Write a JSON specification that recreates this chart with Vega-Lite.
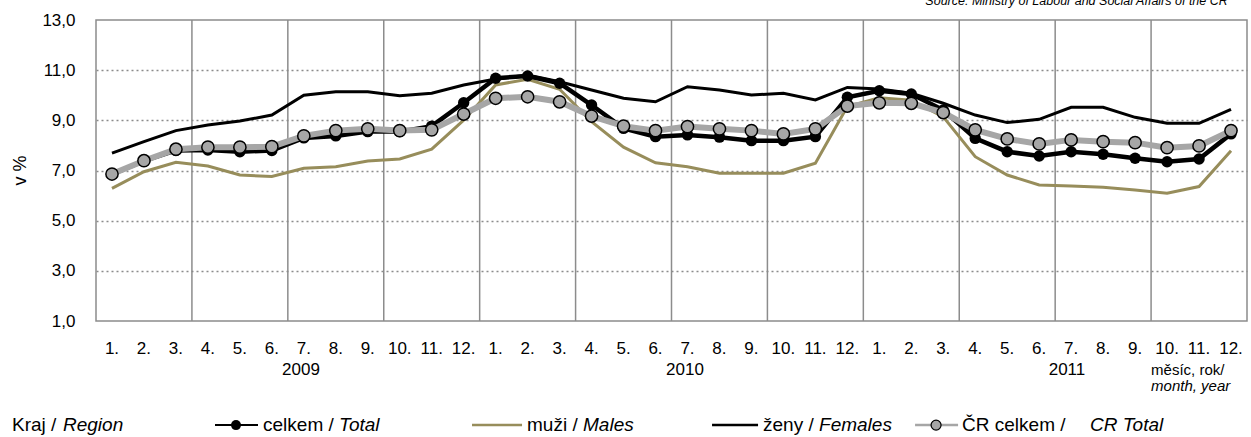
{
  "$schema": "https://vega.github.io/schema/vega-lite/v6.json",
  "width": 1151,
  "height": 301,
  "autosize": {"type": "none"},
  "padding": {"left": 96, "top": 20, "right": 4, "bottom": 116},
  "background": "white",
  "config": {
    "font": "Liberation Sans",
    "view": {"stroke": "#8c8c8c", "strokeWidth": 1.5},
    "axis": {"labelFont": "Liberation Sans", "titleFont": "Liberation Sans", "labelColor": "black", "titleColor": "black"},
    "text": {"font": "Liberation Sans", "color": "black"},
    "rule": {"color": "#8c8c8c", "strokeWidth": 1.5}
  },
  "layer": [
    {"data": {"values": [{}]}, "mark": "rule", "encoding": {"x": {"datum": 3.5}}},
    {"data": {"values": [{}]}, "mark": "rule", "encoding": {"x": {"datum": 6.5}}},
    {"data": {"values": [{}]}, "mark": "rule", "encoding": {"x": {"datum": 9.5}}},
    {"data": {"values": [{}]}, "mark": "rule", "encoding": {"x": {"datum": 12.5}}},
    {"data": {"values": [{}]}, "mark": "rule", "encoding": {"x": {"datum": 15.5}}},
    {"data": {"values": [{}]}, "mark": "rule", "encoding": {"x": {"datum": 18.5}}},
    {"data": {"values": [{}]}, "mark": "rule", "encoding": {"x": {"datum": 21.5}}},
    {"data": {"values": [{}]}, "mark": "rule", "encoding": {"x": {"datum": 24.5}}},
    {"data": {"values": [{}]}, "mark": "rule", "encoding": {"x": {"datum": 27.5}}},
    {"data": {"values": [{}]}, "mark": "rule", "encoding": {"x": {"datum": 30.5}}},
    {"data": {"values": [{}]}, "mark": "rule", "encoding": {"x": {"datum": 33.5}}},
    {
      "data": {"values": [
        {"t": 1, "m": "1.", "total": 6.85, "males": 6.29, "females": 7.69, "cr": 6.86},
        {"t": 2, "m": "2.", "total": 7.38, "males": 6.95, "females": 8.15, "cr": 7.39},
        {"t": 3, "m": "3.", "total": 7.80, "males": 7.33, "females": 8.59, "cr": 7.85},
        {"t": 4, "m": "4.", "total": 7.82, "males": 7.18, "females": 8.81, "cr": 7.93},
        {"t": 5, "m": "5.", "total": 7.75, "males": 6.82, "females": 8.97, "cr": 7.93},
        {"t": 6, "m": "6.", "total": 7.80, "males": 6.76, "females": 9.21, "cr": 7.95},
        {"t": 7, "m": "7.", "total": 8.30, "males": 7.09, "females": 10.00, "cr": 8.38},
        {"t": 8, "m": "8.", "total": 8.38, "males": 7.15, "females": 10.14, "cr": 8.59},
        {"t": 9, "m": "9.", "total": 8.55, "males": 7.38, "females": 10.14, "cr": 8.66},
        {"t": 10, "m": "10.", "total": 8.55, "males": 7.46, "females": 9.98, "cr": 8.59},
        {"t": 11, "m": "11.", "total": 8.77, "males": 7.85, "females": 10.08, "cr": 8.62},
        {"t": 12, "m": "12.", "total": 9.70, "males": 9.01, "females": 10.41, "cr": 9.25},
        {"t": 13, "m": "1.", "total": 10.68, "males": 10.41, "females": 10.65, "cr": 9.88},
        {"t": 14, "m": "2.", "total": 10.77, "males": 10.64, "females": 10.81, "cr": 9.94},
        {"t": 15, "m": "3.", "total": 10.48, "males": 10.24, "females": 10.54, "cr": 9.74},
        {"t": 16, "m": "4.", "total": 9.61, "males": 8.95, "females": 10.21, "cr": 9.17},
        {"t": 17, "m": "5.", "total": 8.68, "males": 7.93, "females": 9.88, "cr": 8.77},
        {"t": 18, "m": "6.", "total": 8.35, "males": 7.31, "females": 9.74, "cr": 8.59},
        {"t": 19, "m": "7.", "total": 8.42, "males": 7.15, "females": 10.34, "cr": 8.75},
        {"t": 20, "m": "8.", "total": 8.33, "males": 6.89, "females": 10.21, "cr": 8.66},
        {"t": 21, "m": "9.", "total": 8.19, "males": 6.89, "females": 10.01, "cr": 8.59},
        {"t": 22, "m": "10.", "total": 8.19, "males": 6.89, "females": 10.08, "cr": 8.46},
        {"t": 23, "m": "11.", "total": 8.35, "males": 7.29, "females": 9.81, "cr": 8.66},
        {"t": 24, "m": "12.", "total": 9.92, "males": 9.55, "females": 10.31, "cr": 9.57},
        {"t": 25, "m": "1.", "total": 10.18, "males": 9.90, "females": 10.25, "cr": 9.70},
        {"t": 26, "m": "2.", "total": 10.05, "males": 9.80, "females": 10.08, "cr": 9.68},
        {"t": 27, "m": "3.", "total": 9.41, "males": 9.14, "females": 9.68, "cr": 9.31},
        {"t": 28, "m": "4.", "total": 8.28, "males": 7.55, "females": 9.21, "cr": 8.62},
        {"t": 29, "m": "5.", "total": 7.75, "males": 6.82, "females": 8.91, "cr": 8.26},
        {"t": 30, "m": "6.", "total": 7.58, "males": 6.42, "females": 9.04, "cr": 8.06},
        {"t": 31, "m": "7.", "total": 7.75, "males": 6.38, "females": 9.52, "cr": 8.22},
        {"t": 32, "m": "8.", "total": 7.65, "males": 6.33, "females": 9.52, "cr": 8.15},
        {"t": 33, "m": "9.", "total": 7.49, "males": 6.22, "females": 9.12, "cr": 8.11},
        {"t": 34, "m": "10.", "total": 7.35, "males": 6.09, "females": 8.88, "cr": 7.91},
        {"t": 35, "m": "11.", "total": 7.46, "males": 6.36, "females": 8.88, "cr": 7.98},
        {"t": 36, "m": "12.", "total": 8.46, "males": 7.79, "females": 9.44, "cr": 8.59}
      ]},
      "transform": [{"fold": ["total", "males", "females", "cr"], "as": ["series", "value"]}],
      "encoding": {
        "x": {
          "field": "t", "type": "quantitative",
          "scale": {"domain": [0.5, 36.5], "nice": false, "zero": false},
          "axis": {"labels": false, "ticks": false, "domain": false, "title": null, "grid": false}
        },
        "y": {
          "field": "value", "type": "quantitative",
          "scale": {"domain": [1, 13], "nice": false, "zero": false},
          "axis": {
            "values": [1, 3, 5, 7, 9, 11, 13],
            "labelExpr": "replace(format(datum.value, '.1f'), '.', ',')",
            "labelFontSize": 17, "labelPadding": 21,
            "ticks": false, "domain": false,
            "title": "v %", "titleFontSize": 18, "titleFontWeight": "normal",
            "titleX": -76, "titleY": 150, "titleAngle": -90, "titleBaseline": "middle", "titleAlign": "center",
            "grid": true, "gridColor": "#8c8c8c", "gridWidth": 1.5, "gridDash": [2, 3],
            "gridOpacity": {"condition": {"test": "datum.value == 1 || datum.value == 13", "value": 0}, "value": 1}
          }
        }
      },
      "layer": [
        {"transform": [{"filter": "datum.series == 'females'"}], "mark": {"type": "line", "color": "black", "strokeWidth": 3}},
        {"transform": [{"filter": "datum.series == 'males'"}], "mark": {"type": "line", "color": "#978d5b", "strokeWidth": 3}},
        {"transform": [{"filter": "datum.series == 'total'"}], "mark": {"type": "line", "color": "black", "strokeWidth": 4.5}},
        {"transform": [{"filter": "datum.series == 'total'"}], "mark": {"type": "point", "shape": "circle", "filled": true, "color": "black", "size": 130, "opacity": 1}},
        {"transform": [{"filter": "datum.series == 'cr'"}], "mark": {"type": "line", "color": "#a6a6a6", "strokeWidth": 6}},
        {"transform": [{"filter": "datum.series == 'cr'"}], "mark": {"type": "point", "shape": "circle", "filled": true, "fill": "#a6a6a6", "stroke": "black", "strokeWidth": 1.5, "size": 150, "opacity": 1}},
        {"transform": [{"filter": "datum.series == 'total'"}], "mark": {"type": "text", "align": "center", "baseline": "middle", "fontSize": 17},
         "encoding": {"y": {"datum": -0.12}, "text": {"field": "m", "type": "nominal"}}}
      ]
    },
    {"data": {"values": [{}]}, "mark": {"type": "text", "align": "center", "baseline": "middle", "fontSize": 17},
     "encoding": {"x": {"datum": 6.91}, "y": {"datum": -0.95}, "text": {"value": "2009"}}},
    {"data": {"values": [{}]}, "mark": {"type": "text", "align": "center", "baseline": "middle", "fontSize": 17},
     "encoding": {"x": {"datum": 18.92}, "y": {"datum": -0.95}, "text": {"value": "2010"}}},
    {"data": {"values": [{}]}, "mark": {"type": "text", "align": "center", "baseline": "middle", "fontSize": 17},
     "encoding": {"x": {"datum": 30.87}, "y": {"datum": -0.95}, "text": {"value": "2011"}}},
    {"data": {"values": [{}]}, "mark": {"type": "text", "align": "right", "baseline": "alphabetic", "fontSize": 12.5, "fontStyle": "italic"},
     "encoding": {"x": {"datum": 35.9}, "y": {"datum": 13.6}, "text": {"value": "Source: Ministry of Labour and Social Affairs of the CR"}}},
    {"data": {"values": [{}]}, "mark": {"type": "text", "align": "left", "baseline": "middle", "fontSize": 15},
     "encoding": {"x": {"datum": 33.5}, "y": {"datum": -0.95}, "text": {"value": "měsíc, rok/"}}},
    {"data": {"values": [{}]}, "mark": {"type": "text", "align": "left", "baseline": "middle", "fontSize": 15, "fontStyle": "italic"},
     "encoding": {"x": {"datum": 33.5}, "y": {"datum": -1.59}, "text": {"value": "month, year"}}},
    {"data": {"values": [{}]}, "mark": {"type": "text", "align": "left", "baseline": "middle", "fontSize": 19},
     "encoding": {"x": {"datum": -2.127}, "y": {"datum": -3.15}, "text": {"value": "Kraj /"}}},
    {"data": {"values": [{}]}, "mark": {"type": "text", "align": "left", "baseline": "middle", "fontSize": 19, "fontStyle": "italic"},
     "encoding": {"x": {"datum": -0.532}, "y": {"datum": -3.15}, "text": {"value": "Region"}}},
    {"data": {"values": [{}]}, "mark": {"type": "rule", "color": "black", "strokeWidth": 2},
     "encoding": {"x": {"datum": 4.222}, "x2": {"datum": 5.567}, "y": {"datum": -3.15}}},
    {"data": {"values": [{}]}, "mark": {"type": "point", "shape": "circle", "filled": true, "color": "black", "size": 100, "opacity": 1},
     "encoding": {"x": {"datum": 4.879}, "y": {"datum": -3.15}}},
    {"data": {"values": [{}]}, "mark": {"type": "text", "align": "left", "baseline": "middle", "fontSize": 19},
     "encoding": {"x": {"datum": 5.724}, "y": {"datum": -3.15}, "text": {"value": "celkem /"}}},
    {"data": {"values": [{}]}, "mark": {"type": "text", "align": "left", "baseline": "middle", "fontSize": 19, "fontStyle": "italic"},
     "encoding": {"x": {"datum": 8.101}, "y": {"datum": -3.15}, "text": {"value": "Total"}}},
    {"data": {"values": [{}]}, "mark": {"type": "rule", "color": "#978d5b", "strokeWidth": 2.5},
     "encoding": {"x": {"datum": 12.261}, "x2": {"datum": 13.825}, "y": {"datum": -3.15}}},
    {"data": {"values": [{}]}, "mark": {"type": "text", "align": "left", "baseline": "middle", "fontSize": 19},
     "encoding": {"x": {"datum": 13.981}, "y": {"datum": -3.15}, "text": {"value": "muži /"}}},
    {"data": {"values": [{}]}, "mark": {"type": "text", "align": "left", "baseline": "middle", "fontSize": 19, "fontStyle": "italic"},
     "encoding": {"x": {"datum": 15.733}, "y": {"datum": -3.15}, "text": {"value": "Males"}}},
    {"data": {"values": [{}]}, "mark": {"type": "rule", "color": "black", "strokeWidth": 2.5},
     "encoding": {"x": {"datum": 19.768}, "x2": {"datum": 21.207}, "y": {"datum": -3.15}}},
    {"data": {"values": [{}]}, "mark": {"type": "text", "align": "left", "baseline": "middle", "fontSize": 19},
     "encoding": {"x": {"datum": 21.363}, "y": {"datum": -3.15}, "text": {"value": "ženy /"}}},
    {"data": {"values": [{}]}, "mark": {"type": "text", "align": "left", "baseline": "middle", "fontSize": 19, "fontStyle": "italic"},
     "encoding": {"x": {"datum": 23.115}, "y": {"datum": -3.15}, "text": {"value": "Females"}}},
    {"data": {"values": [{}]}, "mark": {"type": "rule", "color": "#a6a6a6", "strokeWidth": 2.5},
     "encoding": {"x": {"datum": 26.118}, "x2": {"datum": 27.463}, "y": {"datum": -3.15}}},
    {"data": {"values": [{}]}, "mark": {"type": "point", "shape": "circle", "filled": true, "fill": "#a6a6a6", "stroke": "black", "strokeWidth": 1.2, "size": 100, "opacity": 1},
     "encoding": {"x": {"datum": 26.775}, "y": {"datum": -3.15}}},
    {"data": {"values": [{}]}, "mark": {"type": "text", "align": "left", "baseline": "middle", "fontSize": 19},
     "encoding": {"x": {"datum": 27.588}, "y": {"datum": -3.15}, "text": {"value": "ČR celkem /"}}},
    {"data": {"values": [{}]}, "mark": {"type": "text", "align": "left", "baseline": "middle", "fontSize": 19, "fontStyle": "italic"},
     "encoding": {"x": {"datum": 31.59}, "y": {"datum": -3.15}, "text": {"value": "CR Total"}}}
  ]
}
